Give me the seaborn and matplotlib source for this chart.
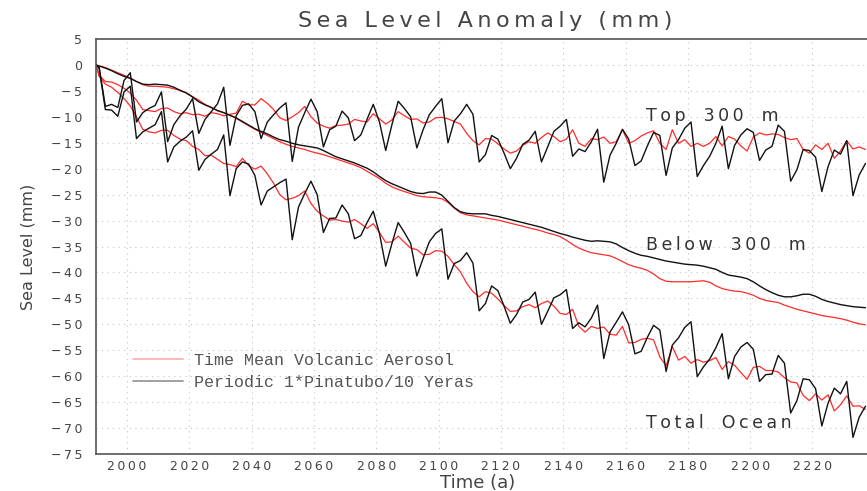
import numpy as np
import pandas as pd
import matplotlib
matplotlib.use("Agg")
import matplotlib.pyplot as plt
import seaborn as sns
from matplotlib.lines import Line2D
from matplotlib.ticker import FuncFormatter

# model years (first point, then every odd year)
years = [1990] + list(range(1991, 2238, 2))

# Top 300 m
top_mean = [0.0, -2.0, -3.2, -3.3, -3.8, -4.5, -5.4, -6.8, -8.6, -8.8,
            -9.0, -8.4, -8.3, -9.0, -9.4, -9.2, -9.6, -9.5, -9.9, -9.2,
            -9.4, -9.8, -9.5, -9.3, -7.0, -7.7, -7.7, -6.5, -7.4, -8.6,
            -10.2, -10.7, -10.0, -9.2, -8.0, -10.0, -11.2, -11.8, -12.2, -11.7,
            -11.6, -11.4, -10.5, -10.8, -11.0, -9.4, -10.4, -11.4, -10.6, -9.0,
            -9.8, -10.5, -10.4, -11.2, -11.0, -10.2, -10.1, -10.4, -10.9, -11.4,
            -13.2, -14.6, -15.4, -14.2, -14.3, -15.2, -16.2, -17.0, -16.6, -15.5,
            -14.8, -15.1, -14.0, -13.1, -13.8, -14.8, -14.3, -12.5, -15.1, -15.7,
            -14.2, -14.4, -13.9, -15.1, -14.8, -12.5, -15.1, -14.6, -13.7, -13.1,
            -12.7, -15.1, -16.3, -12.5, -15.1, -14.4, -15.7, -15.1, -15.7, -15.1,
            -13.8, -15.6, -13.8, -14.3, -15.6, -16.6, -13.9, -13.1, -13.5, -13.3,
            -13.4, -14.0, -14.4, -14.2, -16.3, -17.0, -15.4, -16.3, -15.1, -18.0,
            -16.6, -14.6, -16.2, -15.8, -16.3]
top_pina = [0.0, -0.4, -8.0, -7.6, -8.2, -3.0, -1.5, -11.0, -9.2, -8.4,
            -7.8, -5.2, -14.8, -11.5, -9.8, -8.5, -6.5, -13.2, -10.5, -9.0,
            -7.5, -4.3, -15.5, -9.8, -7.8, -7.5, -9.0, -14.2, -11.0, -9.6,
            -8.3, -7.3, -18.6, -12.0, -9.2, -6.6, -9.0, -15.8, -12.5, -11.8,
            -8.9, -10.2, -14.6, -13.5, -10.5, -7.6, -11.0, -16.5, -11.5, -7.0,
            -8.4, -10.0, -16.0, -12.5, -9.6, -8.0, -6.5, -15.0, -10.8, -9.4,
            -7.6, -9.5, -18.7, -17.3, -13.6, -14.3, -17.0, -20.0, -18.0, -15.3,
            -14.5, -12.8, -18.7, -15.8, -12.8, -11.8, -10.5, -17.6, -16.2, -16.7,
            -14.8, -12.4, -22.6, -17.4, -15.1, -12.4, -14.3, -19.4, -18.5, -15.6,
            -13.0, -13.6, -21.3, -16.0, -14.4, -12.2, -11.0, -21.5, -19.4, -17.6,
            -15.1, -11.8, -20.0, -15.5, -13.5, -12.3, -13.0, -18.4, -16.4, -15.7,
            -11.6, -12.8, -22.4, -20.2, -16.3, -16.5, -17.8, -24.4, -19.6, -16.4,
            -17.2, -14.6, -25.2, -21.2, -19.0]

# Below 300 m
below_mean = [0.0, -0.2, -0.5, -1.0, -1.5, -2.0, -2.5, -3.2, -3.8, -4.1,
              -4.1, -4.2, -4.3, -4.6, -4.9, -5.4, -6.1, -6.8, -7.6, -8.2,
              -8.8, -9.2, -9.7, -10.3, -11.0, -11.7, -12.4, -13.0, -13.6, -14.2,
              -14.8, -15.3, -15.7, -16.0, -16.3, -16.7, -17.0, -17.3, -17.7, -18.1,
              -18.5, -18.9, -19.3, -19.8, -20.5, -21.2, -21.9, -22.8, -23.5, -24.0,
              -24.4, -24.8, -25.2, -25.4, -25.5, -25.6, -25.8, -26.5, -27.6, -28.5,
              -28.9, -29.1, -29.3, -29.5, -29.7, -29.9, -30.2, -30.5, -30.8, -31.1,
              -31.4, -31.7, -32.0, -32.4, -32.7, -33.1, -33.8, -34.6, -35.3, -35.8,
              -36.2, -36.4, -36.6, -36.8, -37.3, -37.9, -38.5, -38.9, -39.2, -39.6,
              -40.3, -41.2, -41.7, -41.8, -41.8, -41.8, -41.8, -41.7, -41.6, -41.9,
              -42.6, -43.1, -43.4, -43.6, -43.7, -44.0, -44.4, -45.0, -45.4, -45.6,
              -45.8, -46.3, -46.7, -47.1, -47.4, -47.7, -48.0, -48.3, -48.5, -48.7,
              -48.9, -49.2, -49.6, -49.9, -50.1]
below_pina = [0.0, -0.2, -0.6, -1.1, -1.7, -2.2, -2.6, -3.2, -3.7, -3.8,
              -3.7, -3.8, -3.9, -4.3, -4.9, -5.4, -6.2, -7.1, -7.7, -8.2,
              -8.8, -9.2, -9.7, -10.2, -10.9, -11.6, -12.3, -12.8, -13.3, -13.9,
              -14.4, -14.7, -15.1, -15.4, -15.6, -15.8, -16.0, -16.5, -17.1, -17.7,
              -18.1, -18.5, -18.9, -19.4, -19.9, -20.6, -21.5, -22.3, -22.9, -23.4,
              -23.9, -24.4, -24.7, -24.8, -24.5, -24.5, -25.1, -26.3, -27.5, -28.3,
              -28.6, -28.7, -28.7, -28.7, -29.0, -29.2, -29.5, -29.8, -30.1, -30.4,
              -30.7, -31.0, -31.3, -31.7, -32.1, -32.5, -32.8, -33.2, -33.5, -33.8,
              -34.0, -33.9, -34.0, -34.1, -34.5, -35.2, -35.8, -36.3, -36.7, -36.9,
              -37.2, -37.5, -37.8, -38.0, -38.2, -38.4, -38.5, -38.6, -38.8, -39.1,
              -39.4, -40.0, -40.5, -40.7, -40.9, -41.2, -41.8, -42.6, -43.3, -43.9,
              -44.4, -44.7, -44.7, -44.5, -44.2, -44.2, -44.6, -45.2, -45.6, -45.9,
              -46.2, -46.4, -46.6, -46.7, -46.8]

# Total ocean
total_mean = [0.0, -2.2, -3.7, -4.3, -5.3, -6.5, -7.9, -10.0, -12.4, -12.9,
              -13.1, -12.6, -12.6, -13.6, -14.3, -14.6, -15.7, -16.3, -17.5, -17.4,
              -18.2, -19.0, -19.2, -19.6, -18.0, -19.4, -20.1, -19.5, -21.0, -22.8,
              -25.0, -26.0, -25.7, -25.2, -24.3, -26.7, -28.2, -29.1, -29.9, -29.8,
              -30.1, -30.3, -29.8, -30.6, -31.5, -30.6, -32.3, -34.2, -34.1, -33.0,
              -34.2, -35.3, -35.6, -36.6, -36.5, -35.8, -35.9, -36.9, -38.5, -39.9,
              -42.1, -43.7, -44.7, -43.7, -44.0, -45.1, -46.4, -47.5, -47.4, -46.6,
              -46.2, -46.8, -46.0, -45.5, -46.5, -47.9, -48.1, -47.1, -50.4, -51.5,
              -50.4, -50.8, -50.5, -51.9, -52.1, -50.4, -53.6, -53.5, -52.9, -52.7,
              -53.0, -56.3, -58.0, -54.3, -56.9, -56.2, -57.5, -56.8, -57.3, -57.0,
              -56.4, -58.7, -57.2, -57.9, -59.3, -60.6, -58.3, -58.1, -58.9, -58.9,
              -59.2, -60.3, -61.1, -61.3, -63.7, -64.7, -63.4, -64.6, -63.6, -66.7,
              -65.5, -63.8, -65.8, -65.7, -66.4]
total_pina = [0.0, -0.6, -8.6, -8.7, -9.9, -5.2, -4.1, -14.2, -12.9, -12.2,
              -11.5, -9.0, -18.7, -15.8, -14.7, -13.9, -12.7, -20.3, -18.2, -17.2,
              -16.3, -13.5, -25.2, -20.0, -18.7, -19.1, -21.3, -27.0, -24.3, -23.5,
              -22.7, -22.0, -33.7, -27.4, -24.8, -22.4, -25.0, -32.3, -29.6, -29.5,
              -27.0, -28.7, -33.5, -32.9, -30.4, -28.2, -32.5, -38.8, -34.4, -30.4,
              -32.3, -34.4, -40.7, -37.3, -34.1, -32.5, -31.6, -41.3, -38.3, -37.7,
              -36.2, -38.2, -47.4, -46.0, -42.6, -43.5, -46.5, -49.8, -48.1, -45.7,
              -45.2, -43.8, -50.0, -47.5, -44.9, -44.3, -43.3, -50.8, -49.7, -50.5,
              -48.8, -46.3, -56.6, -51.5, -49.6, -47.6, -50.1, -55.7, -55.2, -52.5,
              -50.2, -51.1, -59.1, -54.0, -52.6, -50.6, -49.5, -60.1, -58.2, -56.7,
              -54.5, -51.8, -60.5, -56.2, -54.4, -53.5, -54.8, -61.0, -59.7, -59.6,
              -56.0, -57.5, -67.1, -64.7, -60.5, -60.7, -62.4, -69.6, -65.2, -62.3,
              -63.4, -61.0, -71.8, -67.9, -65.8]

legend_labels = ["Time Mean Volcanic Aerosol", "Periodic 1*Pinatubo/10 Yeras"]
region_labels = ["Top 300 m", "Below 300 m", "Total Ocean"]

sns.set_style("white")
plt.rcParams['font.family'] = ['DejaVu Sans']

THIN = "\u2009"


def spaced(text, gap=1):
    # GrADS-like wide lettering
    words = text.split(" ")
    return (THIN + " " * gap + THIN).join(THIN.join(w) for w in words)


frames = []
for region, mean_vals, pina_vals in [("top", top_mean, top_pina),
                                     ("below", below_mean, below_pina),
                                     ("total", total_mean, total_pina)]:
    for run, vals in [("mean", mean_vals), ("pina", pina_vals)]:
        if len(vals) != len(years):
            raise ValueError(f"{region} {run}: {len(vals)} values")
        frames.append(pd.DataFrame({"year": years, "mm": vals,
                                    "region": region, "run": run}))
df = pd.concat(frames, ignore_index=True)

fig = plt.figure(figsize=(8.67, 4.91), dpi=100)
ax = fig.add_axes([96 / 867, 37 / 491, 771 / 867, 415 / 491])

sns.lineplot(data=df[df.run == "mean"], x="year", y="mm", units="region",
             estimator=None, color="#ff2a2a", lw=0.9, ax=ax, legend=False)
sns.lineplot(data=df[df.run == "pina"], x="year", y="mm", units="region",
             estimator=None, color="#111111", lw=1.0, ax=ax, legend=False)

ax.set_xlim(1990, 2237.5)
ax.set_ylim(-75, 5)
ax.set_xticks(range(2000, 2221, 20))
ax.set_yticks(range(-75, 6, 5))
fmt = FuncFormatter(lambda v, pos: THIN.join(f"{int(round(v))}".replace("-", "\u2212")))
ax.xaxis.set_major_formatter(fmt)
ax.yaxis.set_major_formatter(fmt)
ax.tick_params(axis="y", direction="out", length=4.3, width=1, color="#555555",
               labelcolor="#444444", labelsize=9, pad=5.5)
ax.tick_params(axis="x", direction="out", length=3.5, width=1, color="#555555",
               labelcolor="#444444", labelsize=9, pad=1)
ax.set_xlabel("")
ax.set_ylabel("")
ax.grid(True, ls=(0, (1, 4)), color="#c4c4c4", lw=0.8)

ax.spines["right"].set_visible(False)
for side in ["top", "bottom"]:
    ax.spines[side].set_linestyle((0, (4, 1)))
    ax.spines[side].set_color("#555555")
    ax.spines[side].set_linewidth(1.2)
ax.spines["left"].set_color("#555555")
ax.spines["left"].set_linewidth(1.2)

handles = [Line2D([], [], color="#ffb3b3", lw=1.3),
           Line2D([], [], color="#9a9a9a", lw=1.3)]
ax.legend(handles, legend_labels, loc="upper left", bbox_to_anchor=(0.048, 0.243),
          frameon=False, prop={"family": "Liberation Mono", "size": 12},
          handlelength=3.0, handletextpad=0.65, labelspacing=0.4,
          borderpad=0, borderaxespad=0, labelcolor="#555555")

ax.text(2166.4, -10.8, spaced(region_labels[0], 2), fontsize=12.5, color="#333333",
        ha="left", va="baseline")
ax.text(2166.4, -35.7, spaced(region_labels[1], 2), fontsize=12.5, color="#333333",
        ha="left", va="baseline")
ax.text(2166.4, -70.0, spaced(region_labels[2], 2), fontsize=12.5, color="#333333",
        ha="left", va="baseline")

fig.text(485 / 867, 1 - 21 / 491, spaced("Sea Level Anomaly (mm)"), fontsize=16,
         ha="center", va="center", color="#444444")
fig.text(28 / 867, 1 - 247 / 491, "Sea Level (mm)", rotation=90, fontsize=11.5,
         ha="center", va="center", color="#444444")
fig.text(478 / 867, 1 - 488.5 / 491, "Time (a)", fontsize=13,
         ha="center", va="baseline", color="#444444")

fig.savefig("out.png", dpi=100)
plt.close(fig)
